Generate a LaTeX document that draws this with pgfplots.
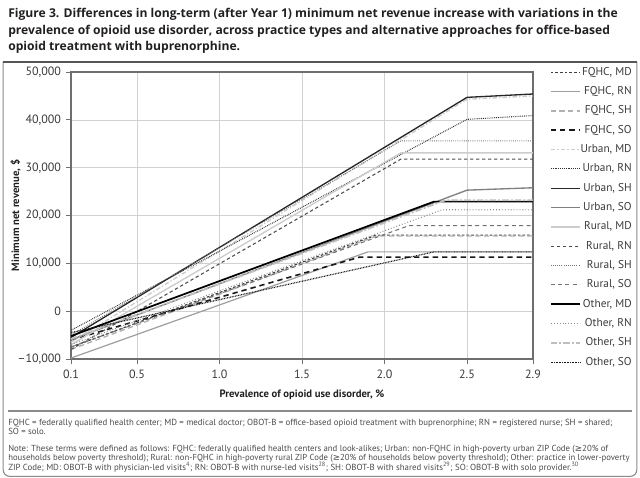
\documentclass[border=0pt]{standalone}
\usepackage{fontspec}
\setmainfont{PT Sans}
\newfontfamily\titlefont{Open Sans}
\newfontfamily\symfont{DejaVu Sans}
\usepackage{pgfplots}
\pgfplotsset{compat=1.18}
\definecolor{titlecol}{HTML}{231F20}
\definecolor{notecol}{HTML}{4A4A4A}
\definecolor{framecol}{HTML}{8A8A8A}
\definecolor{rulecol}{HTML}{555555}
\definecolor{axiscol}{HTML}{6E6E6E}
\definecolor{tickcol}{HTML}{3A3A3A}
\newcommand{\gesym}{{\symfont ≥}}
\begin{document}
\begin{tikzpicture}
\useasboundingbox (0,0) rectangle (480pt,-358.5pt);
% frame
\draw[framecol, line width=0.8pt, rounded corners=5pt] (2.4pt,-46.5pt) -- (2.4pt,-357.3pt) -- (477.6pt,-357.3pt) -- (477.6pt,-46.5pt);
\draw[rulecol, line width=1.6pt] (2pt,-46.5pt) -- (478pt,-46.5pt);
\draw[framecol, line width=1pt] (6pt,-308.2pt) -- (474pt,-308.2pt);
% title
\begin{scope}[every node/.style={anchor=base west, inner sep=0pt, text=titlecol, font=\titlefont\bfseries\fontsize{9.1}{12}\selectfont}]
\node at (6pt,-13.4pt) {Figure 3. Differences in long-term (after Year 1) minimum net revenue increase with variations in the};
\node at (6pt,-25.8pt) {prevalence of opioid use disorder, across practice types and alternative approaches for office-based};
\node at (6pt,-38.2pt) {opioid treatment with buprenorphine.};
\end{scope}
% notes
\begin{scope}[every node/.style={anchor=base west, inner sep=0pt, text=notecol, font=\fontsize{6.6}{8}\selectfont}]
\node at (6pt,-318.75pt) {\resizebox{453pt}{!}{FQHC = federally qualified health center; MD = medical doctor; OBOT-B = office-based opioid treatment with buprenorphine; RN = registered nurse; SH = shared;}};
\node at (6pt,-326.2pt) {SO = solo.};
\node at (6pt,-338.4pt) {\resizebox{450pt}{!}{Note: These terms were defined as follows: FQHC: federally qualified health centers and look-alikes; Urban: non-FQHC in high-poverty urban ZIP Code (\gesym20\% of}};
\node at (6pt,-345.6pt) {\resizebox{466pt}{!}{households below poverty threshold); Rural: non-FQHC in high-poverty rural ZIP Code (\gesym20\% of households below poverty threshold); Other: practice in lower-poverty}};
\node at (6pt,-352.8pt) {\resizebox{428pt}{!}{ZIP Code; MD: OBOT-B with physician-led visits\textsuperscript{4}; RN: OBOT-B with nurse-led visits\textsuperscript{28}; SH: OBOT-B with shared visits\textsuperscript{29}; SO: OBOT-B with solo provider.\textsuperscript{30}}};
\end{scope}
\begin{axis}[
  at={(53.25pt,-269.25pt)}, anchor=south west,
  scale only axis, width=346.5pt, height=215.25pt,
  xmin=0.1, xmax=2.9, ymin=-10000, ymax=50000,
  xtick={0.1,0.5,1.0,1.5,2.0,2.5,2.9},
  xticklabels={0.1,0.5,1.0,1.5,2.0,2.5,2.9},
  ytick={-10000,0,10000,20000,30000,40000,50000},
  yticklabels={{–10,000},0,{10,000},{20,000},{30,000},{40,000},{50,000}},
  scaled y ticks=false,
  xtick pos=lower, ytick pos=left, tick align=outside,
  major tick length=4pt,
  tick style={axiscol, line width=0.6pt},
  axis line style={axiscol, line width=0.8pt},
  grid=major, major grid style={black!18, line width=0.5pt},
  tick label style={font=\fontsize{9}{10}\selectfont, text=tickcol},
  xticklabel style={yshift=-1pt},
  xlabel={Prevalence of opioid use disorder, \%},
  ylabel={Minimum net revenue, \$},
  label style={font=\bfseries\fontsize{8}{10}\selectfont, text=titlecol},
  xlabel style={at={(rel axis cs:0.5,0)}, anchor=base, yshift=-29pt},
  ylabel style={at={(rel axis cs:0,0.5)}, anchor=center, yshift=41.5pt},
  legend style={at={(rel axis cs:1,1)}, anchor=north west, xshift=12.5pt, yshift=4.3pt,
    draw=none, fill=none, inner sep=0pt, row sep=6pt,
    font=\fontsize{8.5}{10}\selectfont, text=tickcol,
    nodes={inner sep=0pt, text height=6.5pt, text depth=2pt},
    /tikz/every odd column/.append style={column sep=4pt}},
  legend cell align=right,
  legend image code/.code={\draw[#1] (0pt,0pt) -- (22pt,0pt);},
  every axis plot/.append style={line join=round},
]
% FQHC, MD
\addplot[color=black!75, line width=0.9pt, dash pattern=on 2pt off 1.5pt] coordinates {(0.1,-7500) (1.95,15900) (2.9,15900)};
\addlegendentry{\makebox[34pt][r]{FQHC, MD}}
% FQHC, RN
\addplot[color=black!38, line width=0.9pt] coordinates {(0.1,-9800) (1.9,12400) (2.9,12400)};
\addlegendentry{\makebox[34pt][r]{FQHC, RN}}
% FQHC, SH
\addplot[color=black!30, line width=1pt, dash pattern=on 4pt off 2.5pt] coordinates {(0.1,-8000) (1.95,15700) (2.9,15700)};
\addlegendentry{\makebox[34pt][r]{FQHC, SH}}
% FQHC, SO
\addplot[color=black!90, line width=1.2pt, dash pattern=on 4pt off 3pt] coordinates {(0.1,-6000) (1.85,11300) (2.9,11300)};
\addlegendentry{\makebox[34pt][r]{FQHC, SO}}
% Urban, MD
\addplot[color=black!20, line width=1pt, dash pattern=on 3.5pt off 1.5pt on 1pt off 1.5pt] coordinates {(0.1,-6500) (2.5,44300) (2.9,45000)};
\addlegendentry{\makebox[34pt][r]{Urban, MD}}
% Urban, RN
\addplot[color=black!80, line width=0.8pt, dash pattern=on 0.6pt off 0.8pt] coordinates {(0.1,-4000) (2.5,40100) (2.9,40900)};
\addlegendentry{\makebox[34pt][r]{Urban, RN}}
% Urban, SH
\addplot[color=black!85, line width=1pt] coordinates {(0.1,-5500) (2.5,44700) (2.9,45400)};
\addlegendentry{\makebox[34pt][r]{Urban, SH}}
% Urban, SO
\addplot[color=black!50, line width=1pt] coordinates {(0.1,-6000) (2.5,25300) (2.9,25800)};
\addlegendentry{\makebox[34pt][r]{Urban, SO}}
% Rural, MD
\addplot[color=black!20, line width=1pt] coordinates {(0.1,-7000) (2.1,33100) (2.9,33100)};
\addlegendentry{\makebox[34pt][r]{Rural, MD}}
% Rural, RN
\addplot[color=black!70, line width=0.8pt, dash pattern=on 2.5pt off 2pt] coordinates {(0.1,-8000) (2.1,31800) (2.9,31800)};
\addlegendentry{\makebox[34pt][r]{Rural, RN}}
% Rural, SH
\addplot[color=black!55, line width=0.8pt, dash pattern=on 0.6pt off 1pt] coordinates {(0.1,-5000) (2.1,35600) (2.9,35600)};
\addlegendentry{\makebox[34pt][r]{Rural, SH}}
% Rural, SO
\addplot[color=black!55, line width=0.8pt, dash pattern=on 3pt off 2.5pt] coordinates {(0.1,-7500) (2.15,17900) (2.9,17900)};
\addlegendentry{\makebox[34pt][r]{Rural, SO}}
% Other, MD
\addplot[color=black, line width=1.3pt] coordinates {(0.1,-5200) (2.3,22900) (2.9,22900)};
\addlegendentry{\makebox[34pt][r]{Other, MD}}
% Other, RN
\addplot[color=black!45, line width=0.8pt, dash pattern=on 0.6pt off 1.6pt] coordinates {(0.1,-7000) (2.35,21200) (2.9,21200)};
\addlegendentry{\makebox[34pt][r]{Other, RN}}
% Other, SH
\addplot[color=black!25, line width=1.3pt, dash pattern=on 5pt off 1.5pt on 1.5pt off 1.5pt] coordinates {(0.1,-5800) (2.37,23200) (2.9,23200)};
\addlegendentry{\makebox[34pt][r]{Other, SH}}
% Other, SO
\addplot[color=black!90, line width=0.9pt, dash pattern=on 0.6pt off 0.6pt] coordinates {(0.1,-4500) (2.3,12400) (2.9,12400)};
\addlegendentry{\makebox[34pt][r]{Other, SO}}
\end{axis}
\end{tikzpicture}
\end{document}
